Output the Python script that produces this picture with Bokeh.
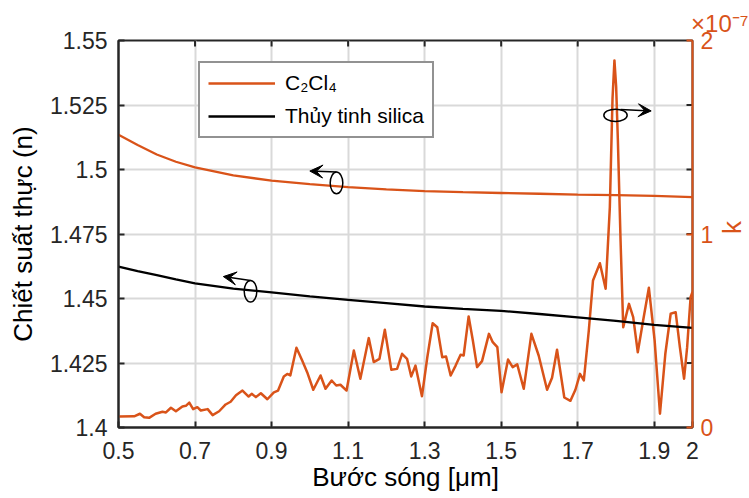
import math
from bokeh.plotting import figure
from bokeh.models import (Range1d, LinearAxis, FixedTicker, Legend, LegendItem,
                          Arrow, VeeHead)
from bokeh.embed import file_html
from bokeh.resources import INLINE

# ---------------- data ----------------
wl_n = [0.5, 0.55, 0.6, 0.65, 0.7, 0.8, 0.9, 1.0, 1.1, 1.2, 1.3, 1.4, 1.5,
        1.6, 1.7, 1.8, 1.9, 2.0]
n_c2cl4 = [1.5135, 1.5095, 1.5058, 1.5030, 1.5008, 1.4977, 1.4957, 1.4943,
           1.4932, 1.4923, 1.4916, 1.4912, 1.4909, 1.4906, 1.4903, 1.4901,
           1.4898, 1.4893]
n_silica = [1.4624, 1.4606, 1.4591, 1.4574, 1.4559, 1.4538, 1.4524, 1.4508,
            1.4495, 1.4482, 1.4469, 1.4460, 1.4452, 1.4440, 1.4427, 1.4413,
            1.4398, 1.4386]

wl_k = [0.502, 0.541, 0.556, 0.567, 0.580, 0.597, 0.615, 0.624, 0.637, 0.650,
        0.667, 0.676, 0.685, 0.695, 0.706, 0.715, 0.733, 0.746, 0.763, 0.780,
        0.793, 0.807, 0.824, 0.840, 0.848, 0.859, 0.872, 0.889, 0.906, 0.917,
        0.932, 0.941, 0.949, 0.965, 0.980, 0.993, 1.009, 1.028, 1.041, 1.057,
        1.069, 1.080, 1.096, 1.115, 1.132, 1.154, 1.167, 1.182, 1.196, 1.213,
        1.228, 1.241, 1.254, 1.265, 1.276, 1.293, 1.307, 1.321, 1.333, 1.346,
        1.356, 1.368, 1.381, 1.394, 1.402, 1.415, 1.426, 1.437, 1.450, 1.468,
        1.478, 1.490, 1.501, 1.518, 1.530, 1.542, 1.559, 1.579, 1.598, 1.620,
        1.633, 1.646, 1.665, 1.681, 1.694, 1.706, 1.716, 1.729, 1.740, 1.758,
        1.773, 1.784, 1.791, 1.796, 1.8005, 1.805, 1.812, 1.819, 1.834, 1.845,
        1.857, 1.871, 1.886, 1.901, 1.915, 1.929, 1.943, 1.956, 1.967, 1.978,
        1.986, 1.995, 2.000]
# k in units of 1e-7
k_e7 = [0.057, 0.058, 0.071, 0.053, 0.050, 0.071, 0.081, 0.078, 0.102, 0.084,
        0.109, 0.112, 0.129, 0.095, 0.105, 0.088, 0.095, 0.064, 0.084, 0.119,
        0.133, 0.167, 0.191, 0.160, 0.174, 0.157, 0.177, 0.146, 0.182, 0.191,
        0.264, 0.277, 0.269, 0.412, 0.346, 0.286, 0.195, 0.269, 0.200, 0.243,
        0.217, 0.221, 0.191, 0.398, 0.252, 0.462, 0.338, 0.355, 0.505, 0.298,
        0.303, 0.381, 0.355, 0.264, 0.320, 0.162, 0.363, 0.539, 0.518, 0.363,
        0.367, 0.269, 0.320, 0.376, 0.372, 0.574, 0.450, 0.312, 0.343, 0.484,
        0.441, 0.415, 0.182, 0.351, 0.312, 0.326, 0.200, 0.484, 0.372, 0.195,
        0.257, 0.402, 0.155, 0.138, 0.195, 0.277, 0.243, 0.501, 0.760, 0.849,
        0.717, 1.139, 1.700, 1.897, 1.760, 1.483, 0.966, 0.518, 0.639, 0.570,
        0.389, 0.553, 0.722, 0.450, 0.071, 0.381, 0.588, 0.596, 0.415, 0.252,
        0.415, 0.673, 0.700]

x_ticks = [0.5, 0.7, 0.9, 1.1, 1.3, 1.5, 1.7, 1.9, 2.0]
x_tick_labels = ["0.5", "0.7", "0.9", "1.1", "1.3", "1.5", "1.7", "1.9", "2"]
y_ticks = [1.4, 1.425, 1.45, 1.475, 1.5, 1.525, 1.55]
y_tick_labels = ["1.4", "1.425", "1.45", "1.475", "1.5", "1.525", "1.55"]
k_ticks = [0, 1, 2]
k_tick_labels = ["0", "1", "2"]
k_multiplier = "×10⁻⁷"

legend_labels = ["C\u2082Cl\u2084", "Thủy tinh silica"]
x_label = "Bước sóng [μm]"
y_label = "Chiết suất thực (n)"
k_label = "k"

# ---------------- style ----------------
FONT = "Liberation Sans"
ORANGE = "#D95319"
AX = "#262626"
GRID = "#d9d9d9"
TICK_FS = "23px"
LABEL_FS = "26px"
FRAME_W, FRAME_H = 574, 387

p = figure(frame_width=FRAME_W, frame_height=FRAME_H,
           min_border_left=118, min_border_right=56,
           min_border_top=40, min_border_bottom=70,
           x_range=Range1d(x_ticks[0], x_ticks[-1]),
           y_range=Range1d(y_ticks[0], y_ticks[-1]),
           output_backend="svg", toolbar_location=None,
           outline_line_color=AX, outline_line_width=2,
           background_fill_color="white", border_fill_color="white")
p.extra_y_ranges = {"k": Range1d(k_ticks[0], k_ticks[-1])}

# multiplier of the right axis, shown as a right-aligned title
p.title.text = k_multiplier
p.title.align = "right"
p.title.offset = -56
p.title.standoff = 8
p.title.text_font = FONT
p.title.text_font_size = "24px"
p.title.text_font_style = "normal"
p.title.text_color = ORANGE


def style_axis(ax, color=AX):
    ax.axis_line_color = color
    ax.axis_line_width = 2
    ax.major_tick_line_color = color
    ax.major_tick_line_width = 2
    ax.major_tick_in = 6
    ax.major_tick_out = 0
    ax.minor_tick_line_color = None
    ax.major_label_text_font = FONT
    ax.major_label_text_font_size = TICK_FS
    ax.major_label_text_color = color
    ax.axis_label_text_font = FONT
    ax.axis_label_text_font_size = LABEL_FS
    ax.axis_label_text_font_style = "normal"
    ax.axis_label_text_color = "black" if color == AX else color


xa = p.xaxis[0]
xa.ticker = FixedTicker(ticks=x_ticks)
xa.major_label_overrides = {t: l for t, l in zip(x_ticks, x_tick_labels)}
xa.axis_label = x_label
style_axis(xa)
xa.major_label_standoff = 14
xa.axis_label_standoff = 0

ya = p.yaxis[0]
ya.ticker = FixedTicker(ticks=y_ticks)
ya.major_label_overrides = {t: l for t, l in zip(y_ticks, y_tick_labels)}
ya.axis_label = y_label
style_axis(ya)
ya.major_label_standoff = 11
ya.axis_label_standoff = 9

ka = LinearAxis(y_range_name="k", ticker=FixedTicker(ticks=k_ticks))
ka.major_label_overrides = {t: l for t, l in zip(k_ticks, k_tick_labels)}
ka.axis_label = k_label
style_axis(ka, ORANGE)
ka.major_label_standoff = 8
ka.axis_label_standoff = 16
ka.axis_label_orientation = math.pi / 2
p.add_layout(ka, "right")

for g, tk in ((p.xgrid[0], x_ticks), (p.ygrid[0], y_ticks)):
    g.ticker = FixedTicker(ticks=tk)
    g.grid_line_color = GRID
    g.grid_line_width = 2

# mirrored (inward) ticks: left-axis ticks on the right, x ticks on the top
dx = 6 * (x_ticks[-1] - x_ticks[0]) / FRAME_W
dy = 6 * (y_ticks[-1] - y_ticks[0]) / FRAME_H
inner_y = y_ticks[1:-1]
inner_x = x_ticks[1:-1]
p.segment(x0=[x_ticks[-1]] * len(inner_y), y0=inner_y,
          x1=[x_ticks[-1] - dx] * len(inner_y), y1=inner_y,
          line_color=AX, line_width=2)
p.segment(x0=inner_x, y0=[y_ticks[-1]] * len(inner_x),
          x1=inner_x, y1=[y_ticks[-1] - dy] * len(inner_x),
          line_color=AX, line_width=2)

# data lines
r_k = p.line(wl_k, k_e7, y_range_name="k", line_color=ORANGE, line_width=2.5,
             line_join="round")
r1 = p.line(wl_n, n_c2cl4, line_color=ORANGE, line_width=2.3)
r2 = p.line(wl_n, n_silica, line_color="black", line_width=2.3)

# annotation ellipses + arrows
p.ellipse(x=[1.0697, 0.845], y=[1.4948, 1.4528], width=[0.033, 0.033],
          height=[0.0084, 0.0084], fill_color=None, line_color="black",
          line_width=1.5)
p.ellipse(x=[1.7988], y=[1.5210], width=[0.061], height=[0.0048],
          fill_color=None, line_color="black", line_width=1.5)
for xs, ys, xe, ye in ((1.0697, 1.4990, 1.000, 1.4994),
                       (0.845, 1.4570, 0.774, 1.4585),
                       (1.812, 1.5233, 1.892, 1.5227)):
    p.add_layout(Arrow(end=VeeHead(size=13, fill_color="black",
                                   line_color="black", line_width=1),
                       x_start=xs, y_start=ys, x_end=xe, y_end=ye,
                       line_color="black", line_width=1.5))

legend = Legend(items=[LegendItem(label=legend_labels[0], renderers=[r1]),
                       LegendItem(label=legend_labels[1], renderers=[r2])],
                location=(80, 289))
legend.border_line_color = AX
legend.border_line_width = 2
legend.background_fill_color = "white"
legend.background_fill_alpha = 1
legend.label_text_font = FONT
legend.label_text_font_size = "21px"
legend.label_text_color = "black"
legend.glyph_width = 67
legend.glyph_height = 20
legend.label_height = 20
legend.spacing = 9
legend.padding = 8
legend.margin = 0
legend.label_standoff = 10
p.add_layout(legend)

open("out.html", "w").write(file_html(p, INLINE))
